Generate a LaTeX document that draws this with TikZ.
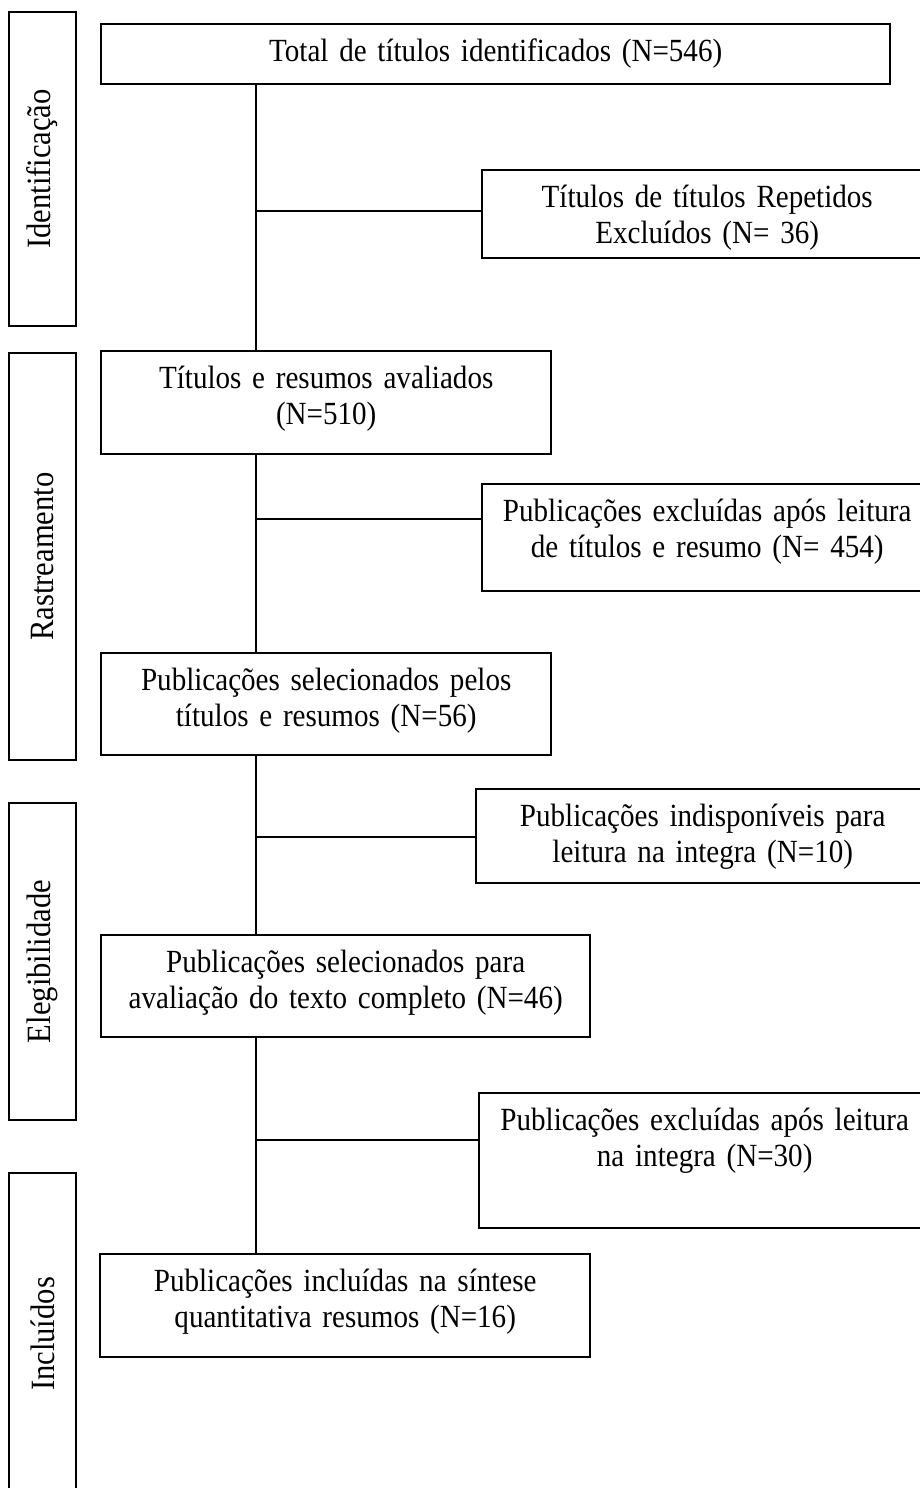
\documentclass[tikz,border=0pt]{standalone}
\usepackage{fontspec}
\setmainfont[FakeStretch=0.9, WordSpace=0.85]{Liberation Serif}
\usetikzlibrary{positioning}

\tikzset{
  box/.style={draw, line width=2.4pt, anchor=north west, align=center,
    inner xsep=0pt, inner ysep=0pt, text height=37pt,
    font=\fontsize{32.3}{36}\selectfont},
  stage/.style={draw, line width=2.4pt, minimum width=67pt, inner sep=0pt,
    font=\fontsize{34}{38}\selectfont},
  link/.style={line width=2pt},
  spineline/.style={line width=1.3pt}
}

\begin{document}
\begin{tikzpicture}[x=1pt, y=-1pt]
    \useasboundingbox (0,0) rectangle (920,1488);

    % Etapas (caixas verticais da esquerda)
    \node[stage, minimum height=314pt] (ident) at (42.5,169) {\rotatebox{90}{Identificação}};
    \node[stage, minimum height=407pt] (rastr) at (42.5,556.5) {\rotatebox{90}{Rastreamento}};
    \node[stage, minimum height=317pt] (elegi) at (42.5,961.5) {\rotatebox{90}{Elegibilidade}};
    \node[stage, minimum height=322pt] (inclu) at (42.5,1334) {\rotatebox{90}{Incluídos}};

    % Caixas principais
    \node[box, text width=789pt, text depth=23pt] (total) at (100,23)
        {Total de títulos identificados (N=546)};
    \node[box, text width=450pt, text depth=66pt] (avaliados) at (100,350)
        {Títulos e resumos avaliados\\(N=510)};
    \node[box, text width=450pt, text depth=65pt] (selec) at (100,652)
        {Publicações selecionados pelos\\títulos e resumos (N=56)};
    \node[box, text width=489pt, text depth=65pt] (texto) at (100,934)
        {Publicações selecionados para\\avaliação do texto completo (N=46)};
    \node[box, text width=490pt, text depth=66pt] (sintese) at (99,1253)
        {Publicações incluídas na síntese\\quantitativa resumos (N=16)};

    % Caixas de exclusão (direita)
    \node[box, text width=450pt, text depth=51pt] (repet) at (481,169)
        {Títulos de títulos Repetidos\\Excluídos (N= 36)};
    \node[box, text width=450pt, text depth=70pt] (excl1) at (481,483)
        {Publicações excluídas após leitura\\de títulos e resumo (N= 454)};
    \node[box, text width=453pt, text depth=57pt] (indisp) at (475,788)
        {Publicações indisponíveis para\\leitura na integra (N=10)};
    \node[box, text width=451pt, text depth=98pt] (excl2) at (478,1092)
        {Publicações excluídas após leitura\\na integra (N=30)};

    % Linha central e derivações
    \coordinate (spine) at (256,0);
    \coordinate (j1) at (256,211);
    \coordinate (j2) at (256,519);
    \coordinate (j3) at (256,837);
    \coordinate (j4) at (256,1140);

    \draw[spineline] (total.south -| spine) -- (avaliados.north -| spine);
    \draw[spineline] (avaliados.south -| spine) -- (selec.north -| spine);
    \draw[spineline] (selec.south -| spine) -- (texto.north -| spine);
    \draw[spineline] (texto.south -| spine) -- (sintese.north -| spine);

    \draw[link] (j1) -- (j1 -| repet.west);
    \draw[link] (j2) -- (j2 -| excl1.west);
    \draw[link] (j3) -- (j3 -| indisp.west);
    \draw[link] (j4) -- (j4 -| excl2.west);
\end{tikzpicture}
\end{document}
